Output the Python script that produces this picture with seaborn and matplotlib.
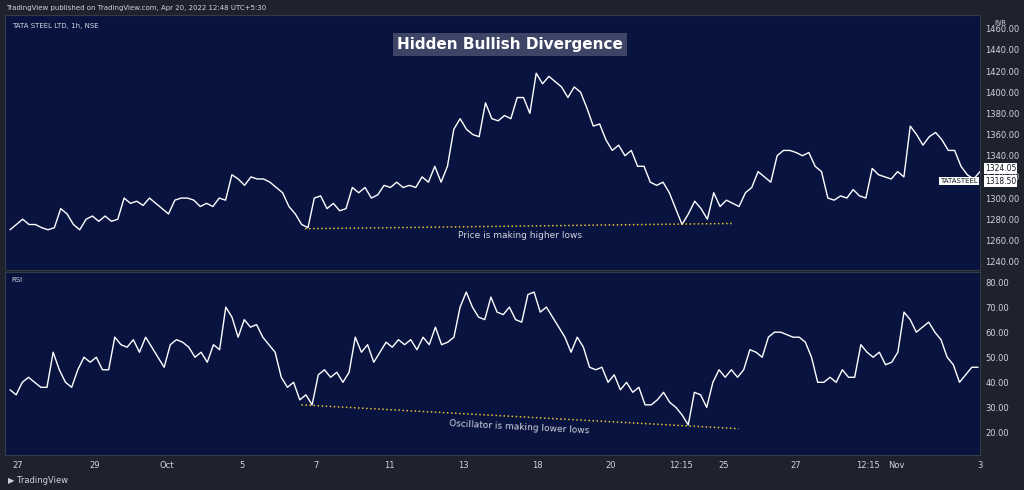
import numpy as np
import pandas as pd
import seaborn as sns
import matplotlib.pyplot as plt

price = [1270, 1275, 1280, 1275, 1275, 1272, 1270, 1272, 1290, 1285, 1275, 1270, 1280, 1283, 1278, 1283,
         1278, 1280, 1300, 1295, 1297, 1293, 1300, 1295, 1290, 1285, 1298, 1300, 1300, 1298, 1292, 1295,
         1292, 1300, 1298, 1322, 1318, 1312, 1320, 1318, 1318, 1315, 1310, 1305, 1292, 1285, 1275, 1272,
         1300, 1302, 1290, 1295, 1288, 1290, 1310, 1305, 1310, 1300, 1303, 1312, 1310, 1315, 1310, 1312,
         1310, 1320, 1315, 1330, 1315, 1330, 1365, 1375, 1365, 1360, 1358, 1390, 1375, 1373, 1378, 1375,
         1395, 1395, 1380, 1418, 1408, 1415, 1410, 1405, 1395, 1405, 1400, 1385, 1368, 1370, 1355, 1345,
         1350, 1340, 1345, 1330, 1330, 1315, 1312, 1315, 1305, 1290, 1275, 1285, 1297, 1290, 1280, 1305,
         1292, 1298, 1295, 1292, 1305, 1310, 1325, 1320, 1315, 1340, 1345, 1345, 1343, 1340, 1343, 1330,
         1325, 1300, 1298, 1302, 1300, 1308, 1302, 1300, 1328, 1322, 1320, 1318, 1325, 1320, 1368, 1360,
         1350, 1358, 1362, 1355, 1345, 1345, 1330, 1322, 1318, 1325]
rsi = [37, 35, 40, 42, 40, 38, 38, 52, 45, 40, 38, 45, 50, 48, 50, 45, 45, 58, 55, 54, 57, 52, 58, 54,
       50, 46, 55, 57, 56, 54, 50, 52, 48, 55, 53, 70, 66, 58, 65, 62, 63, 58, 55, 52, 42, 38, 40, 33,
       35, 31, 43, 45, 42, 44, 40, 44, 58, 52, 55, 48, 52, 56, 54, 57, 55, 57, 53, 58, 55, 62, 55, 56,
       58, 70, 76, 70, 66, 65, 74, 68, 67, 70, 65, 64, 75, 76, 68, 70, 66, 62, 58, 52, 58, 54, 46, 45,
       46, 40, 43, 37, 40, 36, 38, 31, 31, 33, 36, 32, 30, 27, 23, 36, 35, 30, 40, 45, 42, 45, 42, 45,
       53, 52, 50, 58, 60, 60, 59, 58, 58, 56, 50, 40, 40, 42, 40, 45, 42, 42, 55, 52, 50, 52, 47, 48,
       52, 68, 65, 60, 62, 64, 60, 57, 50, 47, 40, 43, 46, 46]
tick_pos = [13, 90, 162, 237, 312, 385, 459, 533, 607, 677, 720, 792, 865, 893, 977]
tick_labels = ["27", "29", "Oct", "5", "7", "11", "13", "18", "20", "12:15", "25", "27", "12:15", "Nov", "3"]
price_ticks = [1240, 1260, 1280, 1300, 1320, 1340, 1360, 1380, 1400, 1420, 1440, 1460]
rsi_ticks = [20, 30, 40, 50, 60, 70, 80]

outer = "#1e222d"
panel = "#081340"
txt = "#d1d4dc"
sns.set_style("dark")
plt.rcParams["font.family"] = "DejaVu Sans"

fig = plt.figure(figsize=(10.24, 4.9), dpi=100, facecolor=outer)
W, H = 1024, 490
ax1 = fig.add_axes([5 / W, 1 - 270 / H, 975 / W, 255 / H])
ax2 = fig.add_axes([5 / W, 1 - 455 / H, 975 / W, 183 / H])

dfp = pd.DataFrame({"x": np.linspace(5, 975, len(price)), "v": price})
dfr = pd.DataFrame({"x": np.linspace(5, 975, len(rsi)), "v": rsi})
sns.lineplot(data=dfp, x="x", y="v", ax=ax1, color="white", lw=1.0)
sns.lineplot(data=dfr, x="x", y="v", ax=ax2, color="white", lw=1.0)

for ax in (ax1, ax2):
    ax.set_facecolor(panel)
    ax.set_xlim(0, 975)
    ax.yaxis.tick_right()
    ax.set_xlabel("")
    ax.set_ylabel("")
    ax.grid(False)
    for s in ax.spines.values():
        s.set_color("#363a45")
    ax.tick_params(colors=txt, labelsize=6, length=0, pad=4)

ax1.set_ylim(1232, 1473)
ax1.set_yticks(price_ticks, [f"{t:.2f}" for t in price_ticks])
ax1.set_xticks([])
ax2.set_ylim(11, 84)
ax2.set_yticks(rsi_ticks, [f"{t:.2f}" for t in rsi_ticks])
ax2.set_xticks(tick_pos, tick_labels)

ax1.plot([300, 728], [1271, 1276], ls=":", color="#e8c230", lw=1.1)
ax2.plot([297, 735], [31, 21.5], ls=":", color="#e8c230", lw=1.1)
ax1.text(515, 1262, "Price is making higher lows", color=txt, fontsize=6.5, ha="center")
ax2.text(515, 22, "Oscillator is making lower lows", color=txt, fontsize=6.5, ha="center",
         va="center", rotation=-3)
ax1.text(505, 1445, "Hidden Bullish Divergence", color="white", fontsize=11, fontweight="bold",
         ha="center", va="center", bbox=dict(facecolor="#3d4466", edgecolor="none", pad=3))
ax1.text(0.007, 0.97, "TATA STEEL LTD, 1h, NSE", transform=ax1.transAxes, color=txt, fontsize=5, va="top")
ax2.text(0.007, 0.97, "RSI", transform=ax2.transAxes, color=txt, fontsize=5, va="top")
ax1.text(1.015, 0.98, "INR", transform=ax1.transAxes, color=txt, fontsize=5, va="top")

for y, lab in [(1328, "1324.05"), (1316, "1318.50")]:
    ax1.text(1.005, y, lab, transform=ax1.get_yaxis_transform(), color="#131722", fontsize=5.5,
             va="center", bbox=dict(facecolor="white", edgecolor="none", pad=0.8))
ax1.text(0.998, 1316, "TATASTEEL", transform=ax1.get_yaxis_transform(), color="#131722", fontsize=5,
         va="center", ha="right", bbox=dict(facecolor="white", edgecolor="none", pad=0.8))

fig.text(6 / W, 1 - 8 / H, "TradingView published on TradingView.com, Apr 20, 2022 12:48 UTC+5:30",
         color=txt, fontsize=5, va="center")
fig.text(8 / W, 1 - 480 / H, "\u25B6 TradingView", color=txt, fontsize=6, va="center")
fig.savefig("out.png", dpi=100, facecolor=outer)
